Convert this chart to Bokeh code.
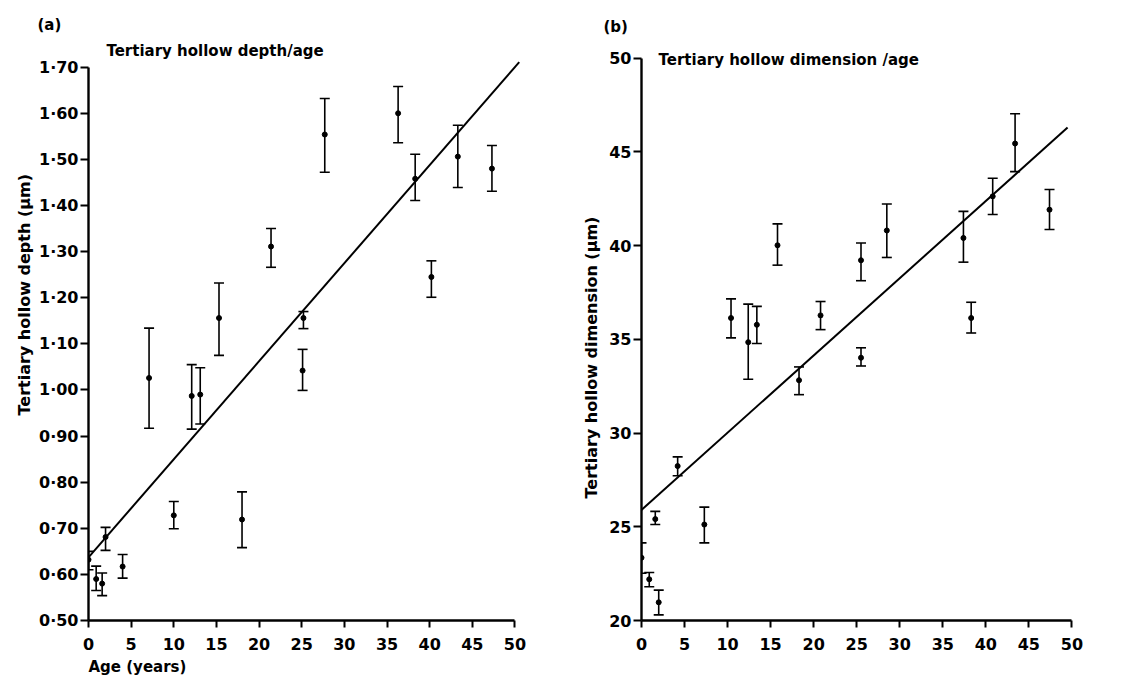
import math
from bokeh.plotting import figure
from bokeh.models import (ColumnDataSource, Whisker, TeeHead, Label, FixedTicker,
                          CustomJSTickFormatter, Range1d, Title)
from bokeh.layouts import row
from bokeh.embed import file_html
from bokeh.resources import INLINE

FONT = "DejaVu Sans"

# ---------------- data: panel (a) depth ----------------
ages_a = [0.0, 0.9, 1.6, 2.0, 4.0, 7.1, 10.0, 12.1, 13.1, 15.3, 18.0, 21.4, 25.1, 25.2,
          27.7, 36.3, 38.3, 40.2, 43.3, 47.3]
depth = [0.632, 0.590, 0.580, 0.681, 0.617, 1.026, 0.728, 0.987, 0.990, 1.156, 0.719,
         1.311, 1.042, 1.156, 1.554, 1.600, 1.458, 1.245, 1.506, 1.480]
depth_hi = [0.650, 0.618, 0.603, 0.702, 0.643, 1.134, 0.758, 1.055, 1.048, 1.232, 0.779,
            1.350, 1.088, 1.170, 1.632, 1.658, 1.511, 1.280, 1.574, 1.530]
depth_lo = [0.610, 0.565, 0.554, 0.652, 0.592, 0.917, 0.699, 0.915, 0.926, 1.075, 0.658,
            1.266, 0.999, 1.133, 1.472, 1.536, 1.411, 1.201, 1.439, 1.431]
fit_a_x = [0.0, 50.5]
fit_a_y = [0.637, 1.711]
ticks_a_y = [0.5, 0.6, 0.7, 0.8, 0.9, 1.0, 1.1, 1.2, 1.3, 1.4, 1.5, 1.6, 1.7]

# ---------------- data: panel (b) dimension ----------------
ages_b = [0.0, 0.9, 1.6, 2.0, 4.2, 7.3, 10.4, 12.4, 13.4, 15.8, 18.3, 20.8, 25.5, 25.5,
          28.5, 37.4, 38.3, 40.8, 43.4, 47.4]
dim = [23.35, 22.2, 25.41, 20.97, 28.24, 25.12, 36.14, 34.85, 35.78, 40.02, 32.82, 36.28,
       39.22, 34.02, 40.81, 40.41, 36.14, 42.63, 45.45, 41.92]
dim_hi = [24.14, 22.56, 25.82, 21.62, 28.73, 26.05, 37.16, 36.88, 36.76, 41.16, 33.53,
          37.02, 40.14, 34.55, 42.22, 41.83, 36.98, 43.60, 47.04, 43.0]
dim_lo = [22.52, 21.8, 25.12, 20.3, 27.72, 24.14, 35.08, 32.87, 34.78, 38.96, 32.05,
          35.52, 38.13, 33.58, 39.37, 39.12, 35.34, 41.66, 43.95, 40.86]
fit_b_x = [0.0, 49.5]
fit_b_y = [25.9, 46.3]
ticks_b_y = [20, 25, 30, 35, 40, 45, 50]

ticks_x = [0, 5, 10, 15, 20, 25, 30, 35, 40, 45, 50]


def base_fig(width, height, left, right, top, bottom, yr):
    p = figure(width=width, height=height, output_backend="svg", toolbar_location=None,
               x_range=Range1d(0, 51), y_range=Range1d(*yr),
               min_border_left=left, min_border_right=right,
               min_border_top=top, min_border_bottom=bottom)
    p.outline_line_color = None
    p.grid.visible = False
    p.background_fill_color = "white"
    for ax in (p.xaxis[0], p.yaxis[0]):
        ax.axis_line_width = 2.4
        ax.axis_line_color = "black"
        ax.major_tick_line_width = 2
        ax.major_tick_line_color = "black"
        ax.major_tick_in = 0
        ax.minor_tick_line_color = None
        ax.major_label_text_font = FONT
        ax.major_label_text_font_style = "bold"
        ax.major_label_text_font_size = "16px"
        ax.major_label_text_color = "black"
    p.xaxis.major_tick_out = 7
    p.yaxis.major_tick_out = 8
    p.xaxis.major_label_standoff = 10
    p.yaxis.major_label_standoff = 2
    p.xaxis.ticker = FixedTicker(ticks=ticks_x)
    p.xaxis.bounds = (0, 50)
    return p


def add_series(p, xs, ys, hi, lo, fx, fy):
    src = ColumnDataSource(dict(x=xs, y=ys, hi=hi, lo=lo))
    w = Whisker(source=src, base="x", upper="hi", lower="lo", dimension="height",
                line_color="black", line_width=1.6,
                upper_head=TeeHead(size=10, line_width=1.6, line_color="black"),
                lower_head=TeeHead(size=10, line_width=1.6, line_color="black"))
    p.add_layout(w)
    p.scatter("x", "y", source=src, size=5, color="black")
    p.line(fx, fy, line_color="black", line_width=2)


def lab(p, x, y, text, size="15px"):
    p.add_layout(Label(x=x, y=y, text=text, text_font=FONT, text_font_style="bold",
                       text_font_size=size, text_color="black", text_align="left",
                       text_baseline="middle"))


def side_title(p, text, side, offset, size="15px", standoff=10):
    p.add_layout(Title(text=text, align="left", offset=offset, standoff=standoff,
                       text_font=FONT, text_font_style="bold", text_font_size=size,
                       text_color="black"), side)


# ---------------- panel (a) ----------------
p1 = base_fig(560, 678, 88, 37, 39, 58, (0.5, 1.76))
p1.yaxis.ticker = FixedTicker(ticks=ticks_a_y)
p1.yaxis.bounds = (0.5, 1.7)
p1.yaxis.formatter = CustomJSTickFormatter(code="return tick.toFixed(2).replace('.', '\u00b7');")
add_series(p1, ages_a, depth, depth_hi, depth_lo, fit_a_x, fit_a_y)
lab(p1, 2.1, 1.735, "Tertiary hollow depth/age")
side_title(p1, "(a)", "above", -51, standoff=12)
side_title(p1, "Tertiary hollow depth (\u03bcm)", "left", 205, size="16px", standoff=6)
side_title(p1, "Age (years)", "below", 0, standoff=6)

# ---------------- panel (b) ----------------
p2 = base_fig(570, 678, 81, 50, 34, 58, (20, 51))
p2.yaxis.ticker = FixedTicker(ticks=ticks_b_y)
p2.yaxis.bounds = (20, 50)
add_series(p2, ages_b, dim, dim_hi, dim_lo, fit_b_x, fit_b_y)
lab(p2, 1.98, 49.9, "Tertiary hollow dimension /age")
side_title(p2, "(b)", "above", -38, standoff=8)
side_title(p2, "Tertiary hollow dimension (\u03bcm)", "left", 122, size="16px", standoff=12)

layout = row(p1, p2)
open("out.html", "w").write(file_html(layout, INLINE))
